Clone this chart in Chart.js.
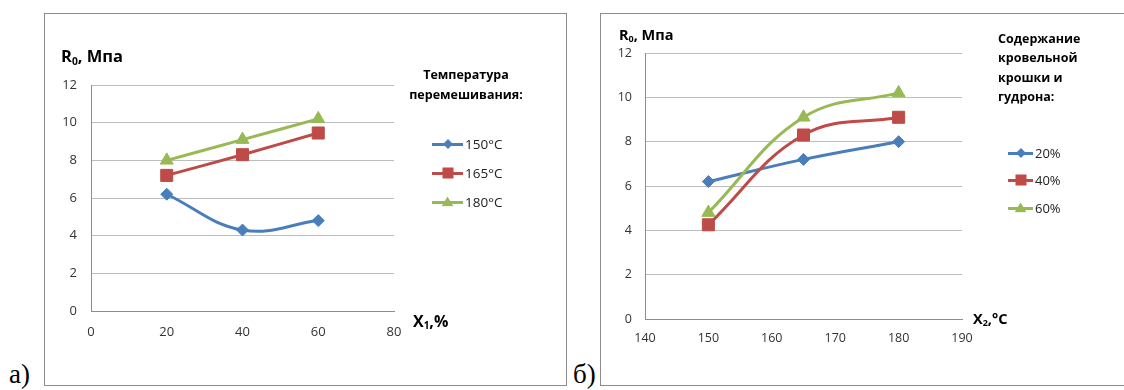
<!DOCTYPE html>
<html>
<head>
<meta charset="utf-8">
<script src="https://cdn.jsdelivr.net/npm/chart.js@4"></script>
<style>
  body { margin: 0; width: 1124px; height: 390px; background: #fff; position: relative; overflow: hidden; font-family: "Open Sans", sans-serif; color: #000; }
  .frame { position: absolute; border: 1px solid #8c8c8c; box-sizing: border-box; }
  .frame canvas { position: absolute; left: 0; top: 0; }
  .txt { position: absolute; white-space: nowrap; line-height: 1; }
  .b { font-weight: bold; }
  sub { font-size: 62%; vertical-align: -0.25em; line-height: 0; }
  .panel { position: absolute; font-family: "Liberation Serif", serif; font-size: 27px; line-height: 1; }
  .leg-title { position: absolute; font-weight: bold; font-size: 12.5px; line-height: 20px; }
  .leg-item { position: absolute; height: 16px; display: flex; align-items: center; font-size: 13.5px; color: #222; }
  .sym { position: relative; height: 16px; margin-right: 2px; }
  .sym .ln { position: absolute; left: 0; right: 0; top: 6.5px; height: 3px; }
  .sym .mk { position: absolute; left: 50%; top: 50%; }
</style>
</head>
<body>
<div class="frame" id="frameA" style="left:44px; top:13px; width:523px; height:373px;">
  <canvas id="chartA"></canvas>
</div>
<div class="frame" id="frameB" style="left:600px; top:13px; width:540px; height:373px;">
  <canvas id="chartB"></canvas>
</div>

<div class="panel" style="left:9px; top:361px;">а)</div>
<div class="panel" style="left:573px; top:361px;">б)</div>

<div class="txt b" style="left:61px; top:48px; font-size:16.5px;">R<sub>0</sub>, Мпа</div>
<div class="txt b" style="left:413px; top:313px; font-size:16px;">X<sub>1</sub>,%</div>
<div class="leg-title" style="left:406px; width:120px; top:65px; text-align:center;">Температура<br>перемешивания:</div>
<div id="legendA"></div>

<div class="txt b" style="left:619px; top:28px; font-size:14.5px;">R<sub>0</sub>, Мпа</div>
<div class="txt b" style="left:973px; top:312px; font-size:14.5px;">X<sub>2</sub>,°C</div>
<div class="leg-title" style="left:998px; top:29px; line-height:19.3px;">Содержание<br>кровельной<br>крошки и<br>гудрона:</div>
<div id="legendB"></div>

<script>
// chart а): R0 vs X1 (%) for three mixing temperatures
const xPercent = [20, 40, 60];
const tempLabels = ['150°C', '165°C', '180°C'];
const r150 = [6.2, 4.3, 4.8];
const r165 = [7.2, 8.3, 9.45];
const r180 = [8.0, 9.1, 10.2];
const xPercentTicks = [0, 20, 40, 60, 80];

// chart б): R0 vs X2 (°C) for three crumb/tar contents
const xTemp = [150, 165, 180];
const contentLabels = ['20%', '40%', '60%'];
const r20 = [6.2, 7.2, 8.0];
const r40 = [4.25, 8.3, 9.1];
const r60 = [4.8, 9.1, 10.2];
const xTempTicks = [140, 150, 160, 170, 180, 190];

const yTicks = [0, 2, 4, 6, 8, 10, 12];

const colors = ['#4a7ebb', '#be4b48', '#98b954'];
const pointStyles = ['rectRot', 'rect', 'triangle'];
const pointRadii = [6, 8.5, 7.5];

function toPoints(xs, ys) {
    return xs.map((x, i) => ({ x: x, y: ys[i] }));
}

function makeDatasets(xs, labels, series) {
    return series.map((ys, idx) => ({
        label: labels[idx],
        data: toPoints(xs, ys),
        borderColor: colors[idx],
        backgroundColor: colors[idx],
        pointBackgroundColor: colors[idx],
        pointBorderColor: colors[idx],
        pointStyle: pointStyles[idx],
        pointRadius: pointRadii[idx],
        pointBorderWidth: 1,
        borderWidth: 3,
        tension: 0.4,
        showLine: true,
        fill: false,
        order: series.length - idx   // later series on top, like Excel
    }));
}

function makeChart(canvasId, w, h, xs, labels, series, xTicks, geo) {
    const cv = document.getElementById(canvasId);
    cv.width = w; cv.height = h;
    cv.style.width = w + 'px'; cv.style.height = h + 'px';
    const tickFont = { family: 'Open Sans', size: geo.fontSize };
    return new Chart(cv, {
        type: 'scatter',
        data: { datasets: makeDatasets(xs, labels, series) },
        options: {
            responsive: false,
            animation: false,
            events: [],
            layout: { padding: { left: 0, top: geo.top, right: geo.right, bottom: geo.bottom } },
            plugins: { legend: { display: false }, tooltip: { enabled: false } },
            scales: {
                x: {
                    type: 'linear',
                    min: xTicks[0],
                    max: xTicks[xTicks.length - 1],
                    afterBuildTicks: s => { s.ticks = xTicks.map(v => ({ value: v })); },
                    afterFit: s => { s.height = 30; },
                    grid: { display: false, drawTicks: false },
                    border: { display: true, color: '#8c8c8c', width: 1 },
                    ticks: { font: tickFont, color: '#333', padding: geo.xPad, maxRotation: 0 }
                },
                y: {
                    min: yTicks[0],
                    max: yTicks[yTicks.length - 1],
                    afterBuildTicks: s => { s.ticks = yTicks.map(v => ({ value: v })); },
                    afterFit: s => { s.width = geo.left; },
                    grid: { color: '#bdbdbd', lineWidth: 1, drawTicks: false },
                    border: { display: true, color: '#8c8c8c', width: 1 },
                    ticks: { font: tickFont, color: '#333', padding: geo.yPad }
                }
            }
        }
    });
}

function buildLegend(elId, chart, pos) {
    const box = document.getElementById(elId);
    chart.data.datasets.forEach((ds, i) => {
        const item = document.createElement('div');
        item.className = 'leg-item';
        item.style.left = pos.x + 'px';
        item.style.top = (pos.y[i] - 8) + 'px';
        item.style.fontSize = pos.fontSize + 'px';
        const sym = document.createElement('span');
        sym.className = 'sym';
        sym.style.width = pos.lineW + 'px';
        const ln = document.createElement('span');
        ln.className = 'ln';
        ln.style.background = ds.borderColor;
        const mk = document.createElement('span');
        mk.className = 'mk';
        mk.style.background = ds.borderColor;
        if (ds.pointStyle === 'rectRot') {
            mk.style.width = '7px'; mk.style.height = '7px';
            mk.style.transform = 'translate(-50%,-50%) rotate(45deg)';
        } else if (ds.pointStyle === 'rect') {
            mk.style.width = '11px'; mk.style.height = '11px';
            mk.style.transform = 'translate(-50%,-50%)';
        } else {
            mk.style.width = '12px'; mk.style.height = '10px';
            mk.style.clipPath = 'polygon(50% 0, 100% 100%, 0 100%)';
            mk.style.transform = 'translate(-50%,-55%)';
        }
        sym.appendChild(ln);
        sym.appendChild(mk);
        item.appendChild(sym);
        item.appendChild(document.createTextNode(ds.label));
        box.appendChild(item);
    });
}

const chartA = makeChart('chartA', 521, 371, xPercent, tempLabels, [r150, r165, r180], xPercentTicks,
    { left: 46, top: 71, right: 172, bottom: 44, xPad: 13, yPad: 14, fontSize: 13 });
const chartB = makeChart('chartB', 538, 371, xTemp, contentLabels, [r20, r40, r60], xTempTicks,
    { left: 44, top: 39, right: 177, bottom: 36, xPad: 12, yPad: 13, fontSize: 12.5 });

buildLegend('legendA', chartA, { x: 432, y: [144, 173, 202], lineW: 31, fontSize: 13.5 });
buildLegend('legendB', chartB, { x: 1008, y: [153, 180, 208], lineW: 25, fontSize: 13 });
</script>
</body>
</html>
